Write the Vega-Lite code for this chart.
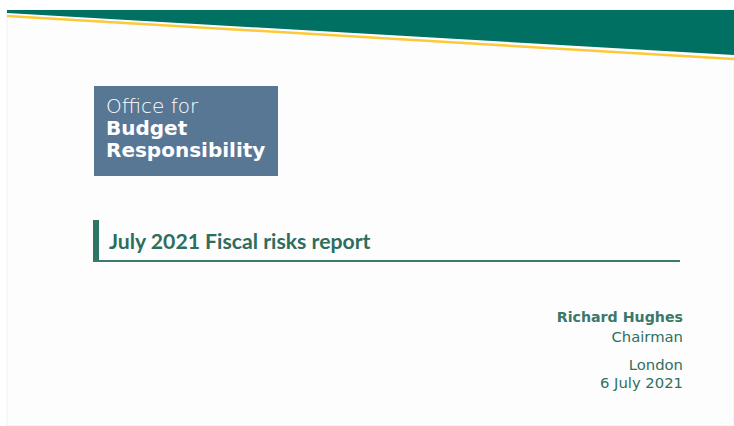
{
  "$schema": "https://vega.github.io/schema/vega-lite/v6.json",
  "width": 734,
  "height": 426,
  "padding": 0,
  "autosize": "none",
  "background": "#ffffff",
  "config": {"view": {"stroke": null}},
  "layer": [
    {
      "data": {"values": [{"x": 7, "x2": 734, "y": 10, "y2": 426}]},
      "mark": {"type": "rect", "fill": "#fdfdfd", "stroke": "#eeeeee", "strokeWidth": 0.8},
      "encoding": {
        "x": {"field": "x", "type": "quantitative", "scale": {"domain": [0, 734], "nice": false, "zero": false}, "axis": null},
        "x2": {"field": "x2"},
        "y": {"field": "y", "type": "quantitative", "scale": {"domain": [0, 426], "nice": false, "zero": false, "reverse": true}, "axis": null},
        "y2": {"field": "y2"}
      }
    },
    {
      "data": {"values": [{"x": 7, "top": 10, "bottom": 13}, {"x": 734, "top": 10, "bottom": 55}]},
      "mark": {"type": "area", "color": "#007062"},
      "encoding": {
        "x": {"field": "x", "type": "quantitative"},
        "y": {"field": "top", "type": "quantitative"},
        "y2": {"field": "bottom"}
      }
    },
    {
      "data": {"values": [{"x": 7, "y": 16, "x2": 734, "y2": 59}]},
      "mark": {"type": "rule", "color": "#fcc93a", "strokeWidth": 2.5},
      "encoding": {
        "x": {"field": "x", "type": "quantitative"},
        "y": {"field": "y", "type": "quantitative"},
        "x2": {"field": "x2"},
        "y2": {"field": "y2"}
      }
    },
    {
      "data": {"values": [{"x": 94, "x2": 278, "y": 86, "y2": 176}]},
      "mark": {"type": "rect", "color": "#587795"},
      "encoding": {
        "x": {"field": "x", "type": "quantitative"},
        "x2": {"field": "x2"},
        "y": {"field": "y", "type": "quantitative"},
        "y2": {"field": "y2"}
      }
    },
    {
      "data": {"values": [{"x": 106, "y": 113, "label": "Office for"}]},
      "mark": {"type": "text", "align": "left", "baseline": "alphabetic", "font": "DejaVu Sans", "fontSize": 20, "fontWeight": 200, "color": "#ffffff"},
      "encoding": {
        "x": {"field": "x", "type": "quantitative"},
        "y": {"field": "y", "type": "quantitative"},
        "text": {"field": "label"}
      }
    },
    {
      "data": {"values": [{"x": 106, "y": 135, "label": "Budget"}, {"x": 106, "y": 157, "label": "Responsibility"}]},
      "mark": {"type": "text", "align": "left", "baseline": "alphabetic", "font": "DejaVu Sans", "fontSize": 20, "fontWeight": "bold", "color": "#ffffff"},
      "encoding": {
        "x": {"field": "x", "type": "quantitative"},
        "y": {"field": "y", "type": "quantitative"},
        "text": {"field": "label"}
      }
    },
    {
      "data": {"values": [{"x": 93, "x2": 99, "y": 220, "y2": 262}]},
      "mark": {"type": "rect", "color": "#2f7565"},
      "encoding": {
        "x": {"field": "x", "type": "quantitative"},
        "x2": {"field": "x2"},
        "y": {"field": "y", "type": "quantitative"},
        "y2": {"field": "y2"}
      }
    },
    {
      "data": {"values": [{"x": 93, "x2": 680, "y": 261}]},
      "mark": {"type": "rule", "color": "#3a7b6b", "strokeWidth": 2},
      "encoding": {
        "x": {"field": "x", "type": "quantitative"},
        "x2": {"field": "x2"},
        "y": {"field": "y", "type": "quantitative"}
      }
    },
    {
      "data": {"values": [{"x": 109, "y": 249, "label": "July 2021 Fiscal risks report"}]},
      "mark": {"type": "text", "align": "left", "baseline": "alphabetic", "font": "Lato", "fontSize": 21.2, "fontWeight": "bold", "color": "#2d6e5f"},
      "encoding": {
        "x": {"field": "x", "type": "quantitative"},
        "y": {"field": "y", "type": "quantitative"},
        "text": {"field": "label"}
      }
    },
    {
      "data": {"values": [{"x": 683, "y": 322, "label": "Richard Hughes"}]},
      "mark": {"type": "text", "align": "right", "baseline": "alphabetic", "font": "DejaVu Sans", "fontSize": 14.2, "fontWeight": "bold", "color": "#3a7869"},
      "encoding": {
        "x": {"field": "x", "type": "quantitative"},
        "y": {"field": "y", "type": "quantitative"},
        "text": {"field": "label"}
      }
    },
    {
      "data": {"values": [{"x": 683, "y": 342, "label": "Chairman"}, {"x": 683, "y": 370, "label": "London"}, {"x": 683, "y": 388, "label": "6 July 2021"}]},
      "mark": {"type": "text", "align": "right", "baseline": "alphabetic", "font": "DejaVu Sans", "fontSize": 14.8, "color": "#2f6f60"},
      "encoding": {
        "x": {"field": "x", "type": "quantitative"},
        "y": {"field": "y", "type": "quantitative"},
        "text": {"field": "label"}
      }
    }
  ]
}
